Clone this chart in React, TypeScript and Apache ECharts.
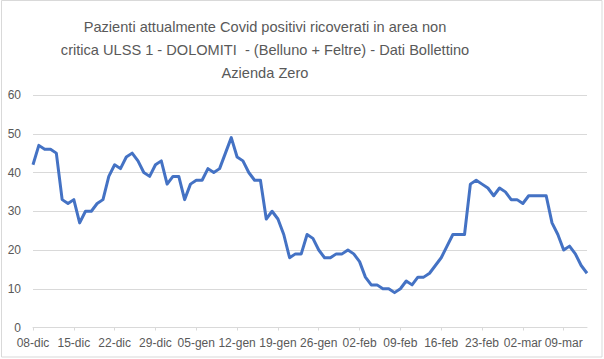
import React, { useEffect, useRef } from "react";
import * as echarts from "echarts";

const startDay = 8; // 08-dic
const monthNames = ["dic", "gen", "feb", "mar"];
const monthLengths = [31, 31, 28, 31];

const values: number[] = [
  42, 47, 46, 46, 45, 33, 32, 33, 27, 30,
  30, 32, 33, 39, 42, 41, 44, 45, 43, 40,
  39, 42, 43, 37, 39, 39, 33, 37, 38, 38,
  41, 40, 41, 45, 49, 44, 43, 40, 38, 38,
  28, 30, 28, 24, 18, 19, 19, 24, 23, 20,
  18, 18, 19, 19, 20, 19, 17, 13, 11, 11,
  10, 10, 9, 10, 12, 11, 13, 13, 14, 16,
  18, 21, 24, 24, 24, 37, 38, 37, 36, 34,
  36, 35, 33, 33, 32, 34, 34, 34, 34, 27,
  24, 20, 21, 19, 16, 14,
];

function buildDates(n: number): string[] {
  const out: string[] = [];
  let m = 0;
  let d = startDay;
  for (let i = 0; i < n; i++) {
    out.push((d < 10 ? "0" + d : "" + d) + "-" + monthNames[m]);
    d++;
    if (d > monthLengths[m]) {
      d = 1;
      m++;
    }
  }
  return out;
}

const categories = buildDates(values.length);
const yTicks = [0, 10, 20, 30, 40, 50, 60];

const titleLines = [
  "Pazienti attualmente Covid positivi ricoverati in area non",
  "critica ULSS 1 - DOLOMITI  - (Belluno + Feltre) - Dati Bollettino",
  "Azienda Zero",
];

export default function App() {
  const ref = useRef<HTMLDivElement>(null);
  useEffect(() => {
    if (!ref.current) return;
    const chart = echarts.init(ref.current, null, { renderer: "svg" });
    const font = "Liberation Sans, Arial, sans-serif";
    chart.setOption({
      animation: false,
      backgroundColor: "#ffffff",
      textStyle: { fontFamily: font },
      title: {
        text: titleLines.join("\n"),
        left: 260,
        textAlign: "center",
        top: 10,
        textStyle: {
          fontSize: 14.6,
          lineHeight: 23,
          color: "#595959",
          fontWeight: "normal",
          fontFamily: font,
        },
      },
      graphic: [
        {
          type: "rect",
          shape: { x: 1.5, y: 0.5, width: 600.5, height: 356.5 },
          style: { fill: "none", stroke: "#d9d9d9", lineWidth: 1 },
          silent: true,
        },
      ],
      grid: { left: 33, right: 17, top: 95, bottom: 31.5, containLabel: false },
      xAxis: {
        type: "category",
        data: categories,
        boundaryGap: false,
        axisLine: { show: true, lineStyle: { color: "#d9d9d9", width: 1 } },
        axisTick: { show: true, interval: 6, length: 3, lineStyle: { color: "#d9d9d9" } },
        axisLabel: {
          interval: 6,
          color: "#595959",
          fontSize: 12,
          margin: 9,
          fontFamily: font,
        },
        splitLine: { show: false },
      },
      yAxis: {
        type: "value",
        min: yTicks[0],
        max: yTicks[yTicks.length - 1],
        interval: 10,
        axisLine: { show: false },
        axisTick: { show: false },
        axisLabel: { color: "#595959", fontSize: 12, margin: 12, fontFamily: font },
        splitLine: { show: true, lineStyle: { color: "#d9d9d9", width: 1 } },
      },
      series: [
        {
          type: "line",
          data: values,
          showSymbol: false,
          symbol: "none",
          lineStyle: { color: "#4472C4", width: 3, join: "round" },
          itemStyle: { color: "#4472C4" },
        },
      ],
    });
    return () => chart.dispose();
  }, []);
  return (
    <div
      ref={ref}
      style={{ position: "fixed", left: 0, top: 0, width: 604, height: 359 }}
    />
  );
}
